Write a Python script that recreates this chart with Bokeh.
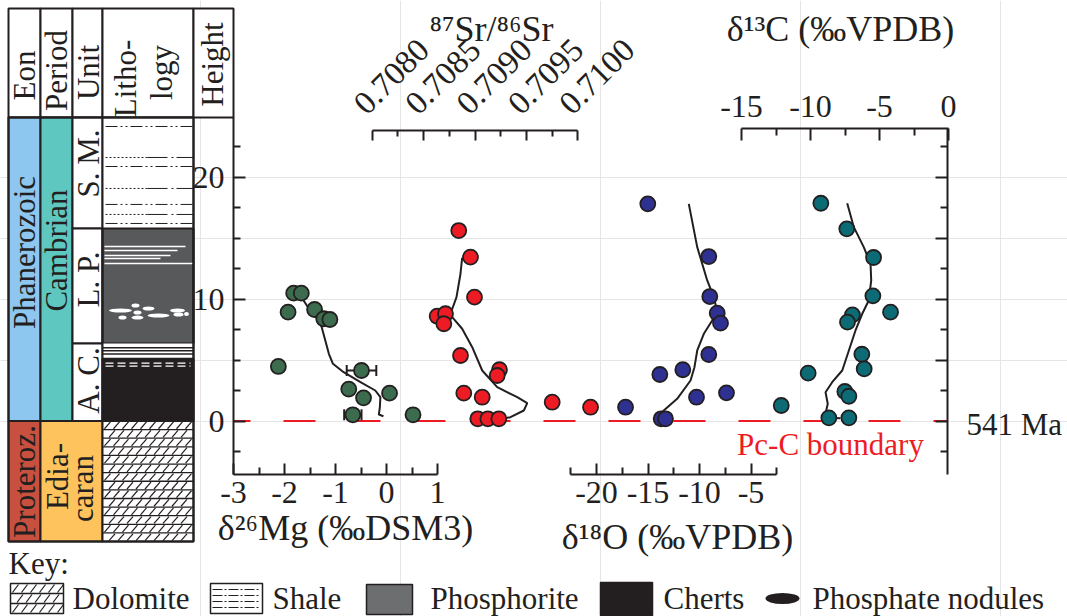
import math
from bokeh.plotting import figure
from bokeh.models import Range1d, LinearAxis, FixedTicker, CustomJSTickFormatter
from bokeh.core.properties import value
from bokeh.embed import file_html
from bokeh.resources import INLINE

# ---------------- data ----------------
# stratigraphic height (m) is the shared vertical axis
mg_value = [-1.82, -1.67, -1.93, -1.41, -1.23, -1.11, -2.12, -0.49, -0.74, -0.45, 0.06, -0.66, 0.52]
mg_height = [10.48, 10.48, 8.92, 9.14, 8.38, 8.32, 4.47, 4.14, 2.61, 1.90, 2.28, 0.51, 0.51]
mg_err_value = [-0.49, -0.66]
mg_err_height = [4.14, 0.51]
mg_err_size = [0.29, 0.17]
mg_trend_value = [-1.69, -1.52, -1.33, -1.27, -1.20, -1.13, -1.05, -0.84, -0.51, -0.22, -0.12, -0.13, -0.15, -0.06]
mg_trend_height = [10.29, 9.20, 8.24, 7.69, 6.60, 5.51, 4.69, 4.00, 3.18, 2.50, 1.95, 1.13, 0.53, 0.39]

sr_value = [0.708842, 0.708956, 0.708995, 0.708632, 0.708713, 0.708697, 0.708859, 0.709238,
            0.709216, 0.708891, 0.709070, 0.709027, 0.709125, 0.709232, 0.709751, 0.710124]
sr_height = [15.61, 13.43, 10.15, 8.59, 8.79, 7.97, 5.37, 4.20, 3.73, 2.28, 1.95, 0.18, 0.18, 0.18, 1.54, 1.13]
sr_trend_value = [0.708875, 0.708859, 0.708820, 0.708762, 0.708778, 0.708875, 0.708973, 0.709070,
                  0.709216, 0.709411, 0.709508, 0.709475, 0.709345, 0.709216]
sr_trend_height = [13.38, 12.07, 10.15, 8.79, 8.51, 7.56, 6.05, 4.14, 2.77, 1.95, 1.46, 0.86, 0.31, 0.12]

o_value = [-15.02, -9.10, -9.00, -8.28, -7.96, -9.10, -11.62, -13.85, -10.29, -7.38, -17.18, -13.72, -13.30]
o_height = [17.80, 13.48, 10.20, 8.84, 8.02, 5.45, 4.20, 3.81, 1.95, 2.31, 1.13, 0.18, 0.18]
o_trend_value = [-11.04, -10.22, -9.25, -8.61, -8.38, -8.45, -8.77, -9.58, -10.22, -10.49, -10.87, -12.17, -13.47, -14.11, -13.30]
o_trend_height = [17.80, 14.25, 11.52, 10.15, 9.33, 8.79, 8.24, 7.15, 5.78, 4.41, 3.32, 1.82, 0.86, 0.26, 0.12]

c_value = [-9.25, -7.37, -5.43, -5.48, -4.20, -6.96, -7.32, -6.28, -6.11, -10.17, -7.51, -7.22, -12.12, -8.67, -7.22]
c_height = [17.85, 15.75, 13.40, 10.26, 8.92, 8.70, 8.10, 5.47, 4.27, 3.92, 2.42, 2.03, 1.27, 0.26, 0.26]
c_trend_value = [-7.34, -6.86, -6.14, -5.65, -5.60, -5.78, -6.25, -6.74, -7.22, -7.70, -8.43, -8.91, -8.75, -8.91, -8.67, -7.83]
c_trend_height = [17.85, 15.89, 14.25, 12.89, 11.52, 9.88, 8.79, 7.42, 5.78, 4.14, 3.18, 2.36, 1.41, 0.59, 0.26, 0.23]

height_ticks = [0, 10, 20]
height_minor = [-2.5, 2.5, 5, 7.5, 12.5, 15, 17.5, 22.5]
right_ticks = [0, 5, 10, 15, 20]
right_minor = [-2.5, 2.5, 7.5, 12.5, 17.5, 22.5]
mg_ticks = [-3, -2, -1, 0, 1]
mg_minor = [-2.5, -1.5, -0.5, 0.5]
sr_ticks = [0.7080, 0.7085, 0.7090, 0.7095, 0.7100]
sr_tick_labels = ["0.7080", "0.7085", "0.7090", "0.7095", "0.7100"]
sr_minor = [0.70825, 0.70875, 0.70925, 0.70975]
o_ticks = [-20, -15, -10, -5]
o_minor = [-22.5, -17.5, -12.5, -7.5, -2.5]
c_ticks = [-15, -10, -5, 0]
c_minor = [-12.5, -7.5, -2.5]

boundary_height = 0.0
boundary_label = "Pc-C boundary"
age_label = "541 Ma"

# stratigraphic column (heights in m)
column_top = 24.88
column_bottom = -9.88
axis_bottom = -4.35
eon_names = ["Phanerozoic", "Proteroz."]
eon_top = [24.88, 0.0]
eon_bottom = [0.0, -9.88]
period_names = ["Cambrian", "Edia-", "caran"]
period_top = [24.88, 0.0]
period_bottom = [0.0, -9.88]
unit_names = ["S. M.", "L. P.", "A. C."]
unit_top = [24.88, 15.78, 6.35]
unit_bottom = [15.78, 6.35, 0.0]
shale_top, shale_bottom = 24.88, 15.78
phos_top, phos_bottom = 15.78, 6.35
ac_shale_top, ac_shale_bottom = 6.35, 5.10
chert_top, chert_bottom = 5.10, 0.0
dolo_top, dolo_bottom = 0.0, -9.88
shale_lines_a = [24.14, 20.86, 17.75, 16.19]
shale_lines_b = [21.60, 19.06, 16.93]
ac_lines = [6.0, 5.75, 5.5]
chert_dash_lines = [4.75, 4.5]
phos_streak_height = [14.30, 13.98, 13.57, 13.32, 12.91]
phos_streak_end = [185, 177, 170, 160, 193]
nodule_x = [120, 135, 148, 177, 137, 158, 122, 137, 178, 186]
nodule_h = [9.06, 9.47, 9.22, 9.06, 8.89, 8.65, 8.48, 8.48, 8.73, 8.78]
nodule_w = [23, 8, 12, 15, 8, 22, 8, 12, 10, 5]

header_names = ["Eon", "Period", "Unit", "Litho-", "logy", "Height"]
key_names = ["Dolomite", "Shale", "Phosphorite", "Cherts", "Phosphate nodules"]

# ---------------- style / layout ----------------
FONT = "Liberation Serif"
INK = "#231f20"
RED = "#ed1c24"
C_MG = "#3c6b4e"
C_SR = "#ed1c24"
C_O = "#2e3192"
C_C = "#0c6b75"
C_PHAN = "#8dc6ef"
C_CAMB = "#5ec8c0"
C_PROT = "#c8503e"
C_EDIA = "#fec35c"
C_PHOS = "#58595b"

W, H = 1067, 616
Y0, PXM = 420.5, 12.2  # pixel row of 0 m, pixels per metre

p = figure(width=W, height=H, x_range=Range1d(0, W),
           y_range=Range1d(-(H - Y0) / PXM, Y0 / PXM),
           output_backend="svg", toolbar_location=None,
           x_axis_location=None, y_axis_location=None,
           outline_line_color=None, min_border=0)
p.min_border_left = p.min_border_right = p.min_border_top = p.min_border_bottom = 0
p.background_fill_color = "white"
p.border_fill_color = "white"
p.extra_x_ranges = {
    "mg": Range1d(-386 / 51.0, (W - 386) / 51.0),
    "sr": Range1d(0.7080 - 371.7 / 102800.0, 0.7080 + (W - 371.7) / 102800.0),
    "o": Range1d(-20 - 596 / 10.3, -20 + (W - 596) / 10.3),
    "c": Range1d(-948 / 13.8, (W - 948) / 13.8),
}
p.extra_y_ranges = {"px": Range1d(H, 0)}

X_AX_L, X_AX_R = 233, 947
SR_AXIS_H = (Y0 - 130) / PXM
C_AXIS_H = (Y0 - 128) / PXM
PLAIN = CustomJSTickFormatter(code="return tick.toString();")


def style_axis(ax, major_in, minor_in, standoff=8, size="32px"):
    ax.axis_line_color = INK
    ax.axis_line_width = 2
    ax.major_tick_line_color = INK
    ax.major_tick_line_width = 2
    ax.minor_tick_line_color = INK
    ax.minor_tick_line_width = 2
    ax.major_tick_in = major_in
    ax.major_tick_out = 0
    ax.minor_tick_in = minor_in
    ax.minor_tick_out = 0
    ax.major_label_text_font = FONT
    ax.major_label_text_font_size = size
    ax.major_label_text_color = INK
    ax.major_label_standoff = standoff


def txt(x, y, s, size="31px", angle=0.0, align="center", baseline="middle", color=INK):
    p.text(x=[x], y=[y], text=[s], angle=angle, text_align=align, text_baseline=baseline,
           text_font=value(FONT), text_font_size=size, text_color=color, y_range_name="px")


def dolomite(x0, x1, top, bottom, nrows, step, yr="default"):
    rh = (top - bottom) / nrows
    hy, sx0, sx1, sy0, sy1 = [], [], [], [], []
    for k in range(nrows):
        yt = top - k * rh
        yb = yt - rh
        if k > 0:
            hy.append(yt)
        x = x0 + 2 + (k % 2) * step / 2
        while x + 6 <= x1:
            sx0.append(x)
            sx1.append(x + 6)
            sy0.append(yb + rh * 0.1)
            sy1.append(yt - rh * 0.1)
            x += step
    p.segment(x0=[x0] * len(hy), x1=[x1] * len(hy), y0=hy, y1=hy, line_color=INK,
              line_width=1.3, y_range_name=yr)
    p.segment(x0=sx0, x1=sx1, y0=sy0, y1=sy1, line_color=INK, line_width=1.2, y_range_name=yr)


# ---------------- stratigraphic column ----------------
COL = {"eon": (8, 40), "period": (40, 72), "unit": (72, 102), "litho": (102, 193), "height": (193, 233)}
HEAD_TOP, HEAD_BOT = 8, 117

p.quad(left=[COL[k][0] for k in COL], right=[COL[k][1] for k in COL],
       top=[HEAD_TOP] * 5, bottom=[HEAD_BOT] * 5, fill_color="white",
       line_color=INK, line_width=2, y_range_name="px")

p.quad(left=[COL["eon"][0]] * 2, right=[COL["eon"][1]] * 2, top=eon_top, bottom=eon_bottom,
       fill_color=[C_PHAN, C_PROT], line_color=INK, line_width=2)
p.quad(left=[COL["period"][0], COL["period"][0]], right=[COL["period"][1], COL["unit"][1]],
       top=period_top, bottom=period_bottom, fill_color=[C_CAMB, C_EDIA], line_color=INK, line_width=2)
p.quad(left=[COL["unit"][0]] * 3, right=[COL["unit"][1]] * 3, top=unit_top, bottom=unit_bottom,
       fill_color="white", line_color=INK, line_width=2)

lx0, lx1 = COL["litho"]
p.quad(left=[lx0], right=[lx1], top=[shale_top], bottom=[shale_bottom], fill_color="white", line_color=None)
for hh in shale_lines_a:
    p.line(x=[lx0 + 3, lx1], y=[hh, hh], line_color=INK, line_width=1, line_dash="12 3 2 3 2 3")
for hh in shale_lines_b:
    p.line(x=[lx0 + 3, lx0 + 45], y=[hh, hh], line_color=INK, line_width=1, line_dash="2 2")
    p.line(x=[lx0 + 45, lx1], y=[hh, hh], line_color=INK, line_width=1, line_dash="20 4 2 3")
p.quad(left=[lx0], right=[lx1], top=[phos_top], bottom=[phos_bottom], fill_color=C_PHOS, line_color=INK, line_width=2)
p.segment(x0=[lx0 + 2] * len(phos_streak_height), x1=phos_streak_end, y0=phos_streak_height,
          y1=phos_streak_height, line_color="white", line_width=1.5)
p.ellipse(x=nodule_x, y=nodule_h, width=nodule_w, height=4, height_units="screen",
          fill_color="white", line_color=None)
p.quad(left=[lx0], right=[lx1], top=[ac_shale_top], bottom=[ac_shale_bottom], fill_color="white", line_color=None)
p.segment(x0=[lx0] * len(ac_lines), x1=[lx1] * len(ac_lines), y0=ac_lines, y1=ac_lines,
          line_color=INK, line_width=1.5)
p.quad(left=[lx0], right=[lx1], top=[chert_top], bottom=[chert_bottom], fill_color=INK, line_color=INK, line_width=2)
for hh in chert_dash_lines:
    p.line(x=[lx0 + 3, lx1 - 3], y=[hh, hh], line_color="white", line_width=1.2, line_dash="8 4")
p.quad(left=[lx0], right=[lx1], top=[dolo_top], bottom=[dolo_bottom], fill_color="white", line_color=None)
dolomite(lx0, lx1, dolo_top, dolo_bottom, 14, 9.0)

p.quad(left=[COL["eon"][0], lx0], right=[lx1, lx1], top=[column_top, column_top],
       bottom=[column_bottom, column_bottom], fill_color=None, line_color=INK, line_width=2)
p.line(x=[COL["eon"][0], lx1], y=[boundary_height, boundary_height], line_color=INK, line_width=2)

hx = [24, 56, 88, 125, 161, 212]
hy = [75, 70, 72, 78, 72, 64]
for x, y, s in zip(hx, hy, header_names):
    txt(x, y, s, size="31px", angle=math.pi / 2)
txt(24, 252, eon_names[0], angle=math.pi / 2)
txt(24, 481, eon_names[1], angle=math.pi / 2)
txt(56, 250, period_names[0], angle=math.pi / 2)
txt(57, 476, period_names[1], angle=math.pi / 2)
txt(82, 488, period_names[2], angle=math.pi / 2)
txt(88, 163, unit_names[0], angle=math.pi / 2)
txt(88, 279, unit_names[1], angle=math.pi / 2)
txt(88, 380, unit_names[2], angle=math.pi / 2)

# ---------------- axes ----------------
ax = LinearAxis(fixed_location=X_AX_L, bounds=(axis_bottom, column_top),
                ticker=FixedTicker(ticks=height_ticks, minor_ticks=height_minor), formatter=PLAIN)
style_axis(ax, 12, 7, standoff=9)
p.add_layout(ax, "left")

ax = LinearAxis(fixed_location=X_AX_R, bounds=(axis_bottom, C_AXIS_H),
                ticker=FixedTicker(ticks=right_ticks, minor_ticks=right_minor))
style_axis(ax, 12, 7)
ax.major_label_text_color = None
p.add_layout(ax, "right")

ax = LinearAxis(x_range_name="mg", fixed_location=axis_bottom, bounds=(-3, 1),
                ticker=FixedTicker(ticks=mg_ticks, minor_ticks=mg_minor), formatter=PLAIN)
style_axis(ax, 11, 7)
p.add_layout(ax, "below")

ax = LinearAxis(x_range_name="o", fixed_location=axis_bottom, bounds=(-22.5, -2.5),
                ticker=FixedTicker(ticks=o_ticks, minor_ticks=o_minor), formatter=PLAIN)
style_axis(ax, 11, 7)
p.add_layout(ax, "below")

ax = LinearAxis(x_range_name="sr", fixed_location=SR_AXIS_H, bounds=(0.7080, 0.7100),
                ticker=FixedTicker(ticks=sr_ticks, minor_ticks=sr_minor))
style_axis(ax, 10, 6)
ax.major_label_text_color = None
p.add_layout(ax, "above")
p.text(x=sr_ticks, y=[SR_AXIS_H] * len(sr_ticks), text=sr_tick_labels, angle=math.pi / 4,
       text_align="left", text_baseline="middle", x_offset=-13, y_offset=-22,
       text_font=value(FONT), text_font_size="33px", text_color=INK, x_range_name="sr")

ax = LinearAxis(x_range_name="c", fixed_location=C_AXIS_H, bounds=(-15, 0),
                ticker=FixedTicker(ticks=c_ticks, minor_ticks=c_minor), formatter=PLAIN)
style_axis(ax, 12, 7, standoff=12)
p.add_layout(ax, "above")

# ---------------- boundary ----------------
p.line(x=[X_AX_L, X_AX_R], y=[boundary_height, boundary_height], line_color=RED, line_width=2,
       line_dash="32 33", line_dash_offset=15)

# ---------------- data series ----------------
lo = [v - e for v, e in zip(mg_err_value, mg_err_size)]
hi = [v + e for v, e in zip(mg_err_value, mg_err_size)]
p.segment(x0=lo, x1=hi, y0=mg_err_height, y1=mg_err_height, line_color=INK, line_width=2, x_range_name="mg")
p.scatter(x=lo + hi, y=mg_err_height + mg_err_height, marker="dash", angle=math.pi / 2, size=11,
          line_color=INK, line_width=2, x_range_name="mg")

p.line(x=mg_trend_value, y=mg_trend_height, line_color=INK, line_width=2, x_range_name="mg")
p.line(x=sr_trend_value, y=sr_trend_height, line_color=INK, line_width=2, x_range_name="sr")
p.line(x=o_trend_value, y=o_trend_height, line_color=INK, line_width=2, x_range_name="o")
p.line(x=c_trend_value, y=c_trend_height, line_color=INK, line_width=2, x_range_name="c")

for xs, ys, col, rng in [(mg_value, mg_height, C_MG, "mg"), (sr_value, sr_height, C_SR, "sr"),
                         (o_value, o_height, C_O, "o"), (c_value, c_height, C_C, "c")]:
    p.scatter(x=xs, y=ys, size=15, fill_color=col, line_color=INK, line_width=1.8, x_range_name=rng)

# ---------------- titles & labels ----------------
txt(345, 527, "δ\u00b2\u2076Mg (‰DSM3)", size="36px", baseline="alphabetic")
txt(677, 536, "δ\u00b9\u2078O (‰VPDB)", size="36px", baseline="alphabetic")
txt(491, 28, "\u2078\u2077Sr/\u2078\u2076Sr", size="36px", baseline="alphabetic")
txt(840, 28, "δ\u00b9\u00b3C (‰VPDB)", size="36px", baseline="alphabetic")
txt(830, 444, boundary_label, size="31px", baseline="alphabetic", color=RED)
txt(966, 424, age_label, size="31px", align="left")

# ---------------- key ----------------
txt(8, 563, "Key:", size="31px", align="left", baseline="alphabetic")
p.quad(left=[10], right=[63], top=[583], bottom=[613], fill_color="white",
       line_color=INK, line_width=1.5, y_range_name="px")
dolomite(10, 63, 583, 613, 3, 9.0, yr="px")
p.quad(left=[210], right=[262], top=[583], bottom=[613], fill_color="white",
       line_color=INK, line_width=1.5, y_range_name="px")
for yy in [589, 595, 601, 607]:
    p.line(x=[212, 260], y=[yy, yy], line_color=INK, line_width=1, line_dash="10 2 2 2", y_range_name="px")
p.quad(left=[366], right=[412], top=[584], bottom=[614], fill_color="#6d6e70",
       line_color=INK, line_width=1.5, y_range_name="px")
p.quad(left=[600], right=[652], top=[582], bottom=[615], fill_color=INK,
       line_color=INK, line_width=1.5, y_range_name="px")
p.ellipse(x=[782], y=[598], width=34, height=11, width_units="screen", height_units="screen",
          fill_color=INK, line_color=None, y_range_name="px")
for x, s in zip([72, 272, 430, 663, 812], key_names):
    txt(x, 598, s, size="31px", align="left")

open("out.html", "w").write(file_html(p, INLINE))
